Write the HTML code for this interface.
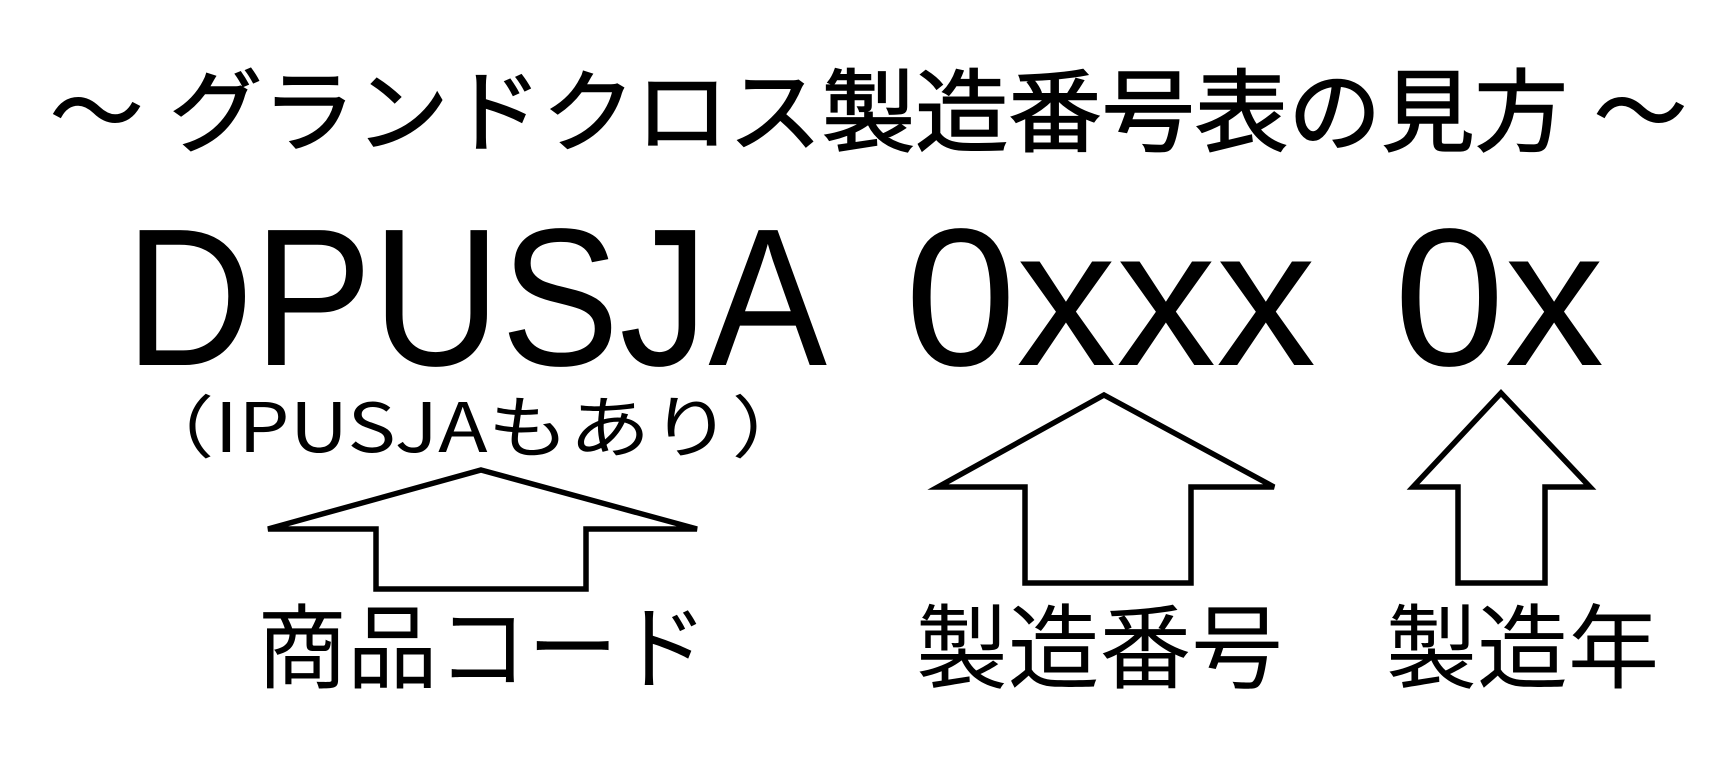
<!DOCTYPE html>
<html><head><meta charset="utf-8"><style>html,body{margin:0;padding:0;background:#fff;}svg{display:block}</style></head>
<body>
<svg width="1734" height="780" viewBox="0 0 1734 780" xmlns="http://www.w3.org/2000/svg">
<rect width="1734" height="780" fill="#fff"/>
<g font-family="'Liberation Sans','Noto Sans CJK JP',sans-serif" fill="#000" stroke="#000" stroke-width="1.5">
<text x="50" y="144" font-size="90" textLength="1637" lengthAdjust="spacingAndGlyphs">～ グランドクロス製造番号表の見方 ～</text>
</g>
<g font-family="'Liberation Sans',sans-serif" fill="#000" font-size="196">
<text x="125" y="365" textLength="702" lengthAdjust="spacingAndGlyphs">DPUSJA</text>
<text x="905" y="365" textLength="411" lengthAdjust="spacingAndGlyphs">0xxx</text>
<text x="1394" y="365" textLength="210" lengthAdjust="spacingAndGlyphs">0x</text>
</g>
<g font-family="'Noto Sans CJK JP',sans-serif" fill="#000">
<text x="133" y="452" font-size="68" textLength="680" lengthAdjust="spacingAndGlyphs">（IPUSJAもあり）</text>
</g>
<g fill="none" stroke="#000" stroke-width="5.5" stroke-linejoin="miter">
<polygon points="481,470 697,529 586,529 586,589 376,589 376,529 268,529"/>
<polygon points="1104,395 1274,487 1191,487 1191,583 1025,583 1025,487 938,487"/>
<polygon points="1501,393 1590,487 1545,487 1545,583 1458,583 1458,487 1413,487"/>
</g>
<g font-family="'Liberation Sans','Noto Sans CJK JP',sans-serif" fill="#000" font-size="92">
<text x="257" y="681" textLength="451" lengthAdjust="spacingAndGlyphs">商品コード</text>
<text x="916" y="681" textLength="367" lengthAdjust="spacingAndGlyphs">製造番号</text>
<text x="1386" y="681" textLength="273" lengthAdjust="spacingAndGlyphs">製造年</text>
</g>
</svg>
</body></html>
